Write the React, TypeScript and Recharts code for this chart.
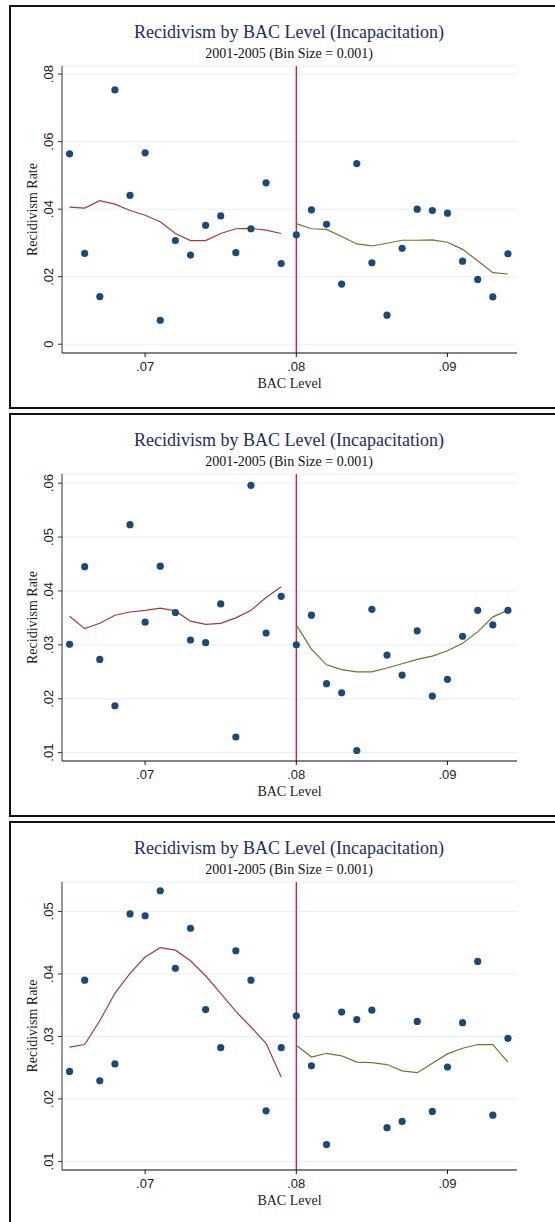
import React from 'react';
import { ComposedChart, Scatter, Line, XAxis, YAxis, CartesianGrid, ReferenceLine } from 'recharts';

// BAC bins (bin size 0.001)
const bacLevels = [
  0.065, 0.066, 0.067, 0.068, 0.069, 0.07, 0.071, 0.072, 0.073, 0.074,
  0.075, 0.076, 0.077, 0.078, 0.079, 0.08, 0.081, 0.082, 0.083, 0.084,
  0.085, 0.086, 0.087, 0.088, 0.089, 0.09, 0.091, 0.092, 0.093, 0.094,
];
const xTicks = [0.07, 0.08, 0.09];

// panel 1
const rateA = [
  0.0564, 0.0269, 0.0141, 0.0753, 0.0441, 0.0567, 0.0071, 0.0307, 0.0264, 0.0352,
  0.038, 0.0271, 0.0342, 0.0478, 0.0239, 0.0324, 0.0398, 0.0355, 0.0178, 0.0535,
  0.0241, 0.0086, 0.0284, 0.04, 0.0396, 0.0388, 0.0246, 0.0192, 0.014, 0.0268,
];
const fitBelowA = [0.0406, 0.0403, 0.0425, 0.0415, 0.0396, 0.0382, 0.0363, 0.0328, 0.0307, 0.0307, 0.0328, 0.0342, 0.0343, 0.0338, 0.0328];
const fitAboveA = [0.0357, 0.0342, 0.034, 0.0319, 0.0297, 0.0291, 0.0299, 0.0308, 0.0308, 0.0309, 0.0302, 0.0281, 0.0247, 0.0212, 0.0208];
const yTicksA = [0, 0.02, 0.04, 0.06, 0.08];

// panel 2
const rateB = [
  0.0301, 0.0445, 0.0273, 0.0187, 0.0523, 0.0342, 0.0446, 0.036, 0.0309, 0.0304,
  0.0376, 0.0129, 0.0596, 0.0322, 0.039, 0.03, 0.0355, 0.0228, 0.0211, 0.0104,
  0.0366, 0.0281, 0.0244, 0.0326, 0.0205, 0.0236, 0.0316, 0.0364, 0.0337, 0.0364,
];
const fitBelowB = [0.0353, 0.033, 0.034, 0.0355, 0.0361, 0.0364, 0.0368, 0.0363, 0.0344, 0.0338, 0.034, 0.035, 0.0364, 0.0388, 0.0408];
const fitAboveB = [0.0337, 0.0292, 0.0263, 0.0254, 0.025, 0.025, 0.0257, 0.0265, 0.0273, 0.0279, 0.0289, 0.0303, 0.0324, 0.0352, 0.0364];
const yTicksB = [0.01, 0.02, 0.03, 0.04, 0.05, 0.06];

// panel 3
const rateC = [
  0.0244, 0.039, 0.0229, 0.0256, 0.0496, 0.0493, 0.0533, 0.0409, 0.0473, 0.0343,
  0.0282, 0.0437, 0.039, 0.0181, 0.0282, 0.0333, 0.0253, 0.0127, 0.0339, 0.0327,
  0.0342, 0.0154, 0.0164, 0.0324, 0.018, 0.0251, 0.0322, 0.042, 0.0174, 0.0297,
];
const fitBelowC = [0.0283, 0.0287, 0.0325, 0.0369, 0.0401, 0.0427, 0.0442, 0.0438, 0.0421, 0.0397, 0.0369, 0.034, 0.0315, 0.0289, 0.0235];
const fitAboveC = [0.0286, 0.0267, 0.0273, 0.0269, 0.0259, 0.0258, 0.0255, 0.0245, 0.0242, 0.0257, 0.0272, 0.0281, 0.0287, 0.0287, 0.0259];
const yTicksC = [0.01, 0.02, 0.03, 0.04, 0.05];

const SERIF = "'Liberation Serif', 'Times New Roman', serif";
const SANS = "'Liberation Sans', Arial, sans-serif";

const fmt = (v: number) => (v === 0 ? '0' : v.toFixed(2).replace(/^0/, ''));

const YTick = ({ x, y, payload }: any) => (
  <text
    x={x - 3}
    y={y}
    transform={`rotate(-90, ${x - 3}, ${y})`}
    textAnchor="middle"
    fontFamily={SANS}
    fontSize={13}
    fill="#222"
  >
    {fmt(payload.value)}
  </text>
);

const Dot = ({ cx, cy }: any) => <circle cx={cx} cy={cy} r={3.6} fill="#1b4a78" />;

interface PanelProps {
  top: number;
  rates: number[];
  fitBelow: number[];
  fitAbove: number[];
  yDomain: [number, number];
  yTicks: number[];
  plotBottom: number;
}

const PANEL_H = 404;

const Panel = ({ top, rates, fitBelow, fitAbove, yDomain, yTicks, plotBottom }: PanelProps) => {
  const dots = bacLevels.map((x, i) => ({ x, y: rates[i] }));
  const below = bacLevels.slice(0, 15).map((x, i) => ({ x, y: fitBelow[i] }));
  const above = bacLevels.slice(15).map((x, i) => ({ x, y: fitAbove[i] }));
  const plotTop = 61;

  return (
    <>
      <div
        style={{
          position: 'absolute', left: 9, top, width: 620, height: PANEL_H,
          border: '2px solid #111', boxSizing: 'border-box',
        }}
      />
      <div
        style={{
          position: 'absolute', left: 0, width: 578, top: top + 15, textAlign: 'center',
          fontFamily: SERIF, fontSize: 18, color: '#1d2d5c', lineHeight: '24px',
        }}
      >
        Recidivism by BAC Level (Incapacitation)
      </div>
      <div
        style={{
          position: 'absolute', left: 0, width: 578, top: top + 40, textAlign: 'center',
          fontFamily: SERIF, fontSize: 14, color: '#111', lineHeight: '18px',
        }}
      >
        2001-2005 (Bin Size = 0.001)
      </div>
      <div style={{ position: 'absolute', left: 0, top }}>
        <ComposedChart
          width={555}
          height={PANEL_H}
          margin={{ top: plotTop, right: 38, left: 32, bottom: PANEL_H - plotBottom - 30 }}
        >
          <CartesianGrid vertical={false} stroke="#e6efef" strokeWidth={1} />
          <XAxis
            type="number"
            dataKey="x"
            domain={[0.0645, 0.0946]}
            ticks={xTicks}
            allowDataOverflow
            height={30}
            tickFormatter={fmt}
            tickSize={4}
            tickMargin={5}
            stroke="#111"
            tick={{ fontFamily: SANS, fontSize: 13, fill: '#222' }}
            label={({ viewBox }: any) => (
              <text
                x={viewBox.x + viewBox.width / 2}
                y={viewBox.y + 30}
                textAnchor="middle"
                dominantBaseline="central"
                fontFamily={SERIF}
                fontSize={14}
                fill="#222"
              >
                BAC Level
              </text>
            )}
          />
          <YAxis
            type="number"
            dataKey="y"
            domain={yDomain}
            ticks={yTicks}
            allowDataOverflow
            width={30}
            tickSize={4}
            tickMargin={2}
            stroke="#333"
            tick={<YTick />}
            label={({ viewBox }: any) => {
              const cy = viewBox.y + viewBox.height / 2;
              return (
                <text
                  x={viewBox.x}
                  y={cy}
                  transform={`rotate(-90, ${viewBox.x}, ${cy})`}
                  textAnchor="middle"
                  dominantBaseline="central"
                  fontFamily={SERIF}
                  fontSize={14}
                  fill="#222"
                >
                  Recidivism Rate
                </text>
              );
            }}
          />
          <ReferenceLine x={0.08} stroke="#d4133f" strokeWidth={1.3} ifOverflow="extendDomain" />
          <Line data={below} dataKey="y" stroke="#a23b3d" strokeWidth={1.2} dot={false} isAnimationActive={false} />
          <Line data={above} dataKey="y" stroke="#5f7d2f" strokeWidth={1.2} dot={false} isAnimationActive={false} />
          <Scatter data={dots} dataKey="y" shape={<Dot />} isAnimationActive={false} />
        </ComposedChart>
      </div>
    </>
  );
};

export default function App() {
  return (
    <div style={{ position: 'absolute', left: 0, top: 0, width: 555, height: 1222, overflow: 'hidden', background: '#fff' }}>
      <Panel top={5} rates={rateA} fitBelow={fitBelowA} fitAbove={fitAboveA} yDomain={[-0.0026, 0.0824]} yTicks={yTicksA} plotBottom={348} />
      <Panel top={413} rates={rateB} fitBelow={fitBelowB} fitAbove={fitAboveB} yDomain={[0.00845, 0.0617]} yTicks={yTicksB} plotBottom={348} />
      <Panel top={821} rates={rateC} fitBelow={fitBelowC} fitAbove={fitAboveC} yDomain={[0.00863, 0.0547]} yTicks={yTicksC} plotBottom={349} />
    </div>
  );
}
